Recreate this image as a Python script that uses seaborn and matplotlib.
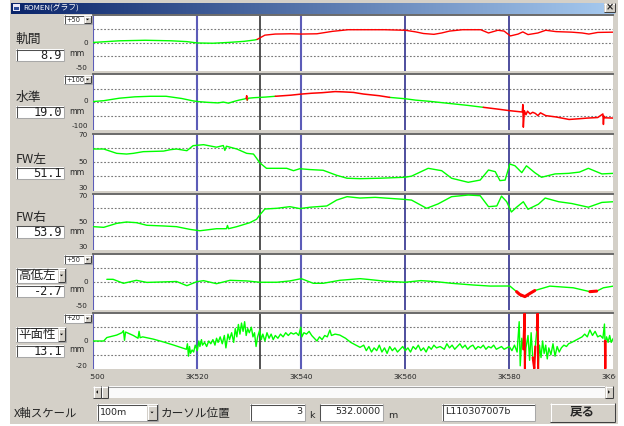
import numpy as np
import pandas as pd
import matplotlib
matplotlib.use("Agg")
import matplotlib.pyplot as plt
import seaborn as sns
from matplotlib.patches import Rectangle, Polygon
from matplotlib.lines import Line2D
from matplotlib.colors import LinearSegmentedColormap

# ---- data (km offset 3K500 .. 3K600) ----
KIKAN_X = [500, 505, 510, 515, 518, 520, 523, 526, 529, 531,
           531.5, 533, 535, 538, 540, 543, 546, 549, 552, 556,
           560, 562, 563.5, 565.5, 567, 568.5, 571, 574.5, 576, 577.8,
           579, 580.2, 581.7, 582.6, 583.6, 585.5, 587, 589, 592, 594,
           595.3, 597, 600]
KIKAN_V = [0.5, 3.5, 4.5, 3.5, 2, -0.5, -1, 0.5, 2.5, 5,
           6, 14, 16, 16.5, 16, 16.5, 21, 24, 24, 24,
           23, 20, 17, 15.5, 18, 21.5, 24, 24, 18, 23,
           21.5, 12.5, 16, 20, 15, 18, 23, 20.5, 19.5, 18,
           16, 19, 19.5]
KIKAN_RED = [(531.5, 601)]

SUIJUN_X = [500, 502, 505, 508, 511, 514, 517, 519, 520, 522,
            524, 525, 526, 527, 528, 529, 529.4, 529.5, 529.6, 529.8,
            531, 533, 535, 538, 540, 542, 544, 546.5, 548, 550,
            552, 555, 557, 560, 562, 564.5, 567, 569.5, 572, 575,
            578, 580, 581.5, 582.5, 582.6, 582.7, 582.9, 583.2, 583.5, 584,
            584.5, 585, 585.5, 586, 587, 589, 591.5, 593, 595, 597,
            598, 598.1, 598.2, 598.4, 600]
SUIJUN_V = [3, 6, 15, 20, 22, 22, 14, 6, 3, 0,
            -2, 1, -3, 3, 8, 12, 14, 24, 8, 15,
            17, 19, 22, 26, 30, 33, 35, 39, 38, 36,
            30, 24, 18, 13, 8, 4, -1, -6, -11, -18,
            -25, -30, -33, -35, -8, -90, -30, -45, -32, -42,
            -36, -40, -48, -38, -48, -53, -62, -60, -57, -55,
            -42, -80, -50, -56, -57]
SUIJUN_RED = [(529.42, 529.68), (535, 557), (575, 601)]

FWL_X = [500, 502, 504.5, 506.4, 507.7, 509.6, 513.5, 514.8, 516, 518,
         519.2, 521.2, 523.7, 525, 525.3, 525.6, 527.6, 529.5, 530.8, 531.4,
         532, 533.3, 535.3, 537.2, 538.5, 539.7, 541.7, 544.2, 546.8, 548.8,
         551.3, 555, 559.9, 561.2, 564.4, 567, 568.9, 572.1, 574.4, 576,
         577.3, 578.2, 579.2, 580.1, 581.1, 582.4, 583.3, 584.9, 586.2, 588.8,
         591.4, 593.5, 595.2, 597.8, 600]
FWL_V = [59.5, 59.5, 56.4, 55.9, 56.4, 57.6, 58, 59, 59.5, 58.3,
         61.9, 62.6, 60.8, 62, 58.5, 61.5, 59.5, 56.4, 55.9, 52.9,
         49.7, 45.7, 45.7, 45.7, 44, 45.4, 44.8, 44.3, 40.7, 38.6,
         38.3, 38.6, 39.3, 40.1, 45.7, 44, 38.6, 35.7, 37.3, 44.5,
         43.3, 36.9, 37.3, 48.8, 47.5, 42.6, 47.5, 42.6, 39.3, 41.7,
         42.1, 43, 45.7, 41.7, 42.1]

FWR_X = [500, 502, 504.5, 506.4, 508.3, 510.3, 513.5, 516, 517.3, 518.6,
         520.5, 523.7, 525.6, 525.8, 526, 527.6, 530.1, 531.4, 532, 533,
         535.3, 537.8, 539.7, 541.7, 544.9, 546.8, 548.8, 551.3, 554.2, 559.9,
         561.2, 564.1, 566.3, 568.9, 572.1, 574.4, 576, 577.6, 578.5, 579.5,
         580.4, 581.4, 582.7, 583.6, 585.6, 586.9, 589.5, 592, 595.2, 597.8,
         600]
FWR_V = [46.6, 46.1, 49, 50, 49.5, 47.6, 47.1, 46.6, 45.6, 44.6,
         43.6, 45.1, 45.1, 47.5, 45.1, 46.6, 49.5, 52, 55.1, 59.5,
         60, 61.2, 59.8, 60.8, 61.7, 66, 68.5, 67.5, 68, 66.5,
         66, 60, 63.2, 68.5, 69.7, 69.2, 61.2, 61.7, 68.9, 64.8,
         57.3, 60.8, 64.8, 59.3, 63, 67.5, 64.8, 63.5, 60.8, 64.3,
         64.8]

KOUTEI_X = [502.6, 503.8, 505.8, 508.3, 510.3, 514.1, 516, 518, 519.9, 521.2,
            523.7, 526.3, 529.5, 532, 535.3, 537.8, 540, 542.3, 544.2, 547.4,
            551.3, 553, 556, 560, 563, 566, 569, 573.1, 576.3, 580.1,
            581.4, 582, 583, 584, 584.9, 587.8, 592.3, 595.5, 596.8, 598.1,
            600]
KOUTEI_V = [4.3, 4.3, -2.9, 2.5, -1.3, -0.2, 0.4, -7.2, 0, 1.9,
            -3.6, 2.5, 1.4, -1, -1, 1.4, 5.5, -2.9, -2.9, 2.5,
            5.5, 4, 1, -1, 2, 0, -3, -6, -7.9, -7.8,
            -18, -23, -27, -21, -16, -8, -11, -18, -17, -11,
            -8]
KOUTEI_RED = [(581.3, 585.0), (595.4, 597.0)]

HEIMEN_X = [500, 502, 502.6, 504.5, 505.5, 505.8, 506, 506.2, 507.7, 508.6,
            508.8, 509, 509.5, 511.5, 513.5, 515.4, 517.3, 517.9, 518.1, 518.3,
            518.5, 518.7, 519, 519.3, 519.6, 520, 520.3, 520.5, 520.8, 521,
            521.4, 521.8, 522.2, 522.6, 523, 523.4, 523.7, 524, 524.4, 524.8,
            525.2, 525.5, 525.9, 526.2, 526.6, 527, 527.3, 527.6, 527.9, 528.2,
            528.5, 528.8, 529.1, 529.4, 529.7, 530, 530.4, 530.7, 531, 531.3,
            531.6, 532, 532.3, 532.6, 533, 533.4, 533.8, 534.2, 534.6, 535,
            535.5, 536, 536.5, 537, 537.5, 538, 538.5, 539, 539.5, 539.9,
            540.1, 540.5, 541, 541.5, 542, 542.5, 543, 543.5, 544, 544.5,
            545, 545.5, 545.8, 546.5, 547.4, 548.5, 549.5, 550.5, 551.3, 552,
            552.5, 553, 553.5, 554, 554.5, 555, 555.5, 556, 556.5, 557,
            557.5, 558, 558.5, 559, 559.5, 560, 560.5, 561, 561.5, 562,
            562.5, 563, 563.5, 564, 564.5, 565, 565.5, 566, 566.7, 567.5,
            568, 568.5, 569, 569.5, 570, 570.5, 571, 571.5, 572, 572.5,
            573, 573.5, 574, 574.5, 575, 575.5, 576, 576.5, 577, 577.5,
            578, 578.5, 579, 579.5, 580, 580.5, 581, 581.5, 581.9, 582.1,
            582.4, 582.7, 582.95, 583.0, 583.2, 583.6, 583.9, 584.2, 584.5, 584.8,
            585.0, 585.3, 585.45, 585.55, 585.8, 586.1, 586.4, 586.7, 587, 587.3,
            587.6, 588, 588.4, 588.8, 589.2, 589.6, 590, 590.5, 591, 591.4,
            592, 592.5, 593, 593.5, 594, 594.5, 595, 595.5, 596, 596.5,
            597, 597.5, 598, 598.3, 598.4, 598.45, 598.5, 598.7, 599, 599.3,
            599.6, 600]
HEIMEN_V = [0, 0, 2.5, 4.3, 6, 7.5, 0.5, 6.5, 4, 2,
            7, 2.4, 3, 1.4, -0.7, -2.9, -5.3, -6, -2, -11,
            -4, -9, -6.5, -8, -3, -7, 0, -4, 1, -3,
            -1, -4, 0, -2, 1, -3, 2, -1, 3, -2,
            4, -5, 5, 1, 6, -1, 9, 3, 12, 5,
            13, 7, 14, 4, 9, 6, 10, 3, 6, -4,
            3, 8, 1, 5, 0, 6, 2, 5, 1, 4,
            2, 5, 3, 6, 4, 6, 5, 6, 4, 10,
            3, 6, 5, 7, 4, 2, 0, 3, 1, 4,
            3, 8, 4, 5, 4.3, 2, -1, -3, -4.6, -3,
            -7, -4, -8, -5, -7, -3, -8, -5, -9, -4,
            -7, -5, -8, -6, -4, -7, -5, -8, -4, -6,
            -3, -7, -5, -8, -4, -6, -3, -5, -4, -6,
            -2, -5, -3, -6, -4, -2, -5, -3, -6, -4,
            -3, -6, -4, -5, -3, -6, -4, -5, -3, -6,
            -5, -4, -6, -5, -4, -7, -3, -8, 14, -18,
            2, -6, 20, -20, -5, 4, -14, 6, -12, -20,
            -4, 8, 20, -20, -3, -12, 0, -9, -3, -13,
            -5, -10, -2, -11, -4, -8, -5, -3, -4, -2,
            -1, 0, 1, 2, 3, 5, 3, 8, 4, 7,
            3, 4, 2, 12.3, 0, -20, 0, 3, -1, 4,
            -1, 2]
HEIMEN_RED = [(582.8, 583.05), (584.6, 584.95), (585.35, 585.52), (598.41, 598.49)]

XTICK_POS = [500, 520, 540, 560, 580, 600]
XTICK_LAB = ["3K500", "3K520", "3K540", "3K560", "3K580", "3K600"]
CURSOR_KM = 532

W, H = 624, 426
GRAY = "#D4D0C8"
JP = ["Noto Sans CJK JP", "DejaVu Sans"]

sns.set_theme(style="white")
plt.rcParams["font.family"] = ["DejaVu Sans", "Noto Sans CJK JP"]

fig = plt.figure(figsize=(W / 100, H / 100), dpi=100, facecolor="white")


def fx(x):
    return x / W


def fy(y):
    return 1 - y / H


def rect(x0, y0, x1, y1, fc, z=1):
    fig.add_artist(Rectangle((fx(x0), fy(y1)), (x1 - x0) / W, (y1 - y0) / H,
                             transform=fig.transFigure, facecolor=fc,
                             edgecolor="none", zorder=z))


def line(xs, ys, color, lw=0.75, z=4):
    fig.add_artist(Line2D([fx(v) for v in xs], [fy(v) for v in ys],
                          transform=fig.transFigure, color=color, linewidth=lw,
                          zorder=z, solid_capstyle="butt"))


def txt(x, y, s, size, ha="left", va="center", family=None, **kw):
    fig.text(fx(x), fy(y), s, fontsize=size, ha=ha, va=va,
             family=family or ["DejaVu Sans"], zorder=6, **kw)


def sunken(x0, y0, x1, y1):
    rect(x0, y0, x1, y1, "white", z=3)
    line([x0, x1], [y0 + 0.5, y0 + 0.5], "#505050")
    line([x0 + 0.5, x0 + 0.5], [y0, y1], "#505050")
    line([x0, x1], [y1 - 0.5, y1 - 0.5], "#A8A8A8")
    line([x1 - 0.5, x1 - 0.5], [y0, y1], "#A8A8A8")


def raised(x0, y0, x1, y1):
    rect(x0, y0, x1, y1, GRAY, z=4)
    line([x0, x1], [y0 + 0.5, y0 + 0.5], "white", z=5)
    line([x0 + 0.5, x0 + 0.5], [y0, y1], "white", z=5)
    line([x0, x1], [y1 - 0.5, y1 - 0.5], "#404040", z=5)
    line([x1 - 0.5, x1 - 0.5], [y0, y1], "#404040", z=5)


def tri(cx, cy, s, direction="down"):
    if direction == "down":
        pts = [(cx - s, cy - s / 2), (cx + s, cy - s / 2), (cx, cy + s / 2)]
    elif direction == "left":
        pts = [(cx + s / 2, cy - s), (cx + s / 2, cy + s), (cx - s / 2, cy)]
    else:
        pts = [(cx - s / 2, cy - s), (cx - s / 2, cy + s), (cx + s / 2, cy)]
    fig.add_artist(Polygon([(fx(a), fy(b)) for a, b in pts], closed=True,
                           transform=fig.transFigure, facecolor="black",
                           edgecolor="none", zorder=6))


def dropdown(x0, y0, x1, y1, label, size, bw, family=None):
    sunken(x0, y0, x1, y1)
    raised(x1 - bw - 1, y0 + 1, x1 - 1, y1 - 1)
    tri(x1 - 1 - bw / 2, (y0 + y1) / 2, 1.6)
    txt(x0 + 2.5, (y0 + y1) / 2, label, size, family=family)


def build_runs(xs, vs, red):
    rows = []
    run, prev = 0, None
    for i in range(len(xs) - 1):
        mid = (xs[i] + xs[i + 1]) / 2
        c = "r" if any(a < mid < b for a, b in red) else "g"
        if c != prev:
            run += 1
            rows.append((xs[i], vs[i], run, c))
            prev = c
        rows.append((xs[i + 1], vs[i + 1], run, c))
    return pd.DataFrame(rows, columns=["x", "v", "run", "c"])


# window background + title bar
rect(10, 0, 618, 424, GRAY, z=0)
grad = np.linspace(0, 1, 256).reshape(1, -1)
tcmap = LinearSegmentedColormap.from_list("title", ["#0A246A", "#A6CAF0"])
ax_t = fig.add_axes([fx(11), fy(14), (615 - 11) / W, 11 / H])
ax_t.imshow(grad, aspect="auto", cmap=tcmap)
ax_t.axis("off")
rect(13, 4.5, 20, 11, "#E8E8F8", z=5)
rect(14, 6.5, 19, 10, "#2A4A9A", z=6)
txt(23, 8.5, "ROMEN(グラフ)", 5.6, family=JP, color="white")
raised(604, 3, 615, 12)
txt(609.5, 7.5, "×", 7, ha="center", fontweight="bold")

# panels
PANELS = [
    dict(x=KIKAN_X, v=KIKAN_V, red=KIKAN_RED, top=14.6, bot=70.8,
         ylim=(-52, 52), grid=(-25, 0, 25), red_lw=1.0),
    dict(x=SUIJUN_X, v=SUIJUN_V, red=SUIJUN_RED, top=74.2, bot=130.5,
         ylim=(-102, 102), grid=(-50, 0, 50), red_lw=1.1),
    dict(x=FWL_X, v=FWL_V, red=[], top=133.9, bot=190.7,
         ylim=(29.7, 70.3), grid=(40, 50, 60), red_lw=1.0),
    dict(x=FWR_X, v=FWR_V, red=[], top=194.2, bot=249.8,
         ylim=(29.7, 70.3), grid=(40, 50, 60), red_lw=1.0),
    dict(x=KOUTEI_X, v=KOUTEI_V, red=KOUTEI_RED, top=253.5, bot=309.9,
         ylim=(-51, 51), grid=(-25, 0, 25), red_lw=2.2),
    dict(x=HEIMEN_X, v=HEIMEN_V, red=HEIMEN_RED, top=313.0, bot=369.0,
         ylim=(-20.3, 20.3), grid=(-10, 0, 10), red_lw=1.6),
]

for p in PANELS:
    ax = fig.add_axes([fx(93.3), fy(p["bot"]), 520 / W, (p["bot"] - p["top"]) / H])
    ax.set_facecolor("white")
    for g in p["grid"]:
        ax.axhline(g, color="#7A7A7A", lw=0.8, ls=(0, (1.6, 1.6)), zorder=1)
    for km in XTICK_POS[:3]:
        ax.axvline(km, color="#5C5CB8", lw=1.5, zorder=2)
    for km in XTICK_POS[3:5]:
        ax.axvline(km, color="#1E1E84", lw=1.1, zorder=2)
    ax.axvline(CURSOR_KM, color="#444444", lw=1.3, zorder=2)

    df = build_runs(p["x"], p["v"], p["red"])
    for c, col, lw in [("g", "#00FF00", 1.0), ("r", "#FF0000", p["red_lw"])]:
        sub = df[df["c"] == c]
        if len(sub):
            sns.lineplot(data=sub, x="x", y="v", units="run", estimator=None,
                         sort=False, color=col, linewidth=lw, ax=ax,
                         legend=False, zorder=3)
    ax.set_xlim(500, 600)
    ax.set_ylim(*p["ylim"])
    ax.set_xticks([])
    ax.set_yticks([])
    ax.set_xlabel("")
    ax.set_ylabel("")
    for s in ["left", "right", "bottom"]:
        ax.spines[s].set_visible(False)
    ax.spines["top"].set_color("#6A6A6A")
    ax.spines["top"].set_linewidth(1.4)

# left side labels
TS = 5.2
txt(16, 39, "軌間", 9.2, family=JP)
txt(16, 97, "水準", 9.2, family=JP)
txt(16, 159, "FW左", 9.2, family=JP)
txt(16, 218, "FW右", 9.2, family=JP)
dropdown(16, 268, 66, 283, "高低左", 9, 7, family=JP)
dropdown(16, 327, 66, 342, "平面性", 9, 7, family=JP)

VALUES = ["8.9", "19.0", "51.1", "53.9", "-2.7", "13.1"]
VALUE_Y = [(49, 61), (106, 118), (167, 179), (226, 238), (285, 297), (345, 357)]
for s, (a, b) in zip(VALUES, VALUE_Y):
    sunken(16, a, 64, b)
    txt(62, (a + b) / 2 + 0.3, s, 8.6, ha="right", family=["DejaVu Sans Mono"],
        color="#202020")
    txt(69, (a + b) / 2 - 1.0, "mm", 5.6)

dropdown(64, 15, 92, 24, "+50", 4.8, 7)
dropdown(64, 75, 92, 84, "+100", 4.8, 7)
dropdown(64, 255, 92, 264, "+50", 4.8, 7)
dropdown(64, 314, 92, 323, "+20", 4.8, 7)

TICKS = [(43, "0"), (68, "-50"), (101, "0"), (126.5, "-100"),
         (135, "70"), (162, "50"), (187.5, "30"),
         (196, "70"), (222, "50"), (247, "30"),
         (282, "0"), (306, "-50"), (341, "0"), (366, "-20")]
for y, s in TICKS:
    txt(88, y, s, TS, ha="right")

# x labels row (clipped at the window edge like the original)
ax_l = fig.add_axes([fx(90), fy(384), (616 - 90) / W, 12 / H])
ax_l.set_xlim(500 - 3.3 / 5.2, 600 + 2.7 / 5.2)
ax_l.set_ylim(0, 1)
ax_l.axis("off")
for km, lab in zip(XTICK_POS, XTICK_LAB):
    ax_l.text(km, 0.55, lab, fontsize=5.4, ha="center", va="center", clip_on=True)

# scrollbar
rect(93, 386, 613, 398, "#FAFAFA", z=2)
line([93, 613], [386.5, 386.5], "#A0A0A0")
raised(93, 386, 101, 398)
tri(97, 392, 1.8, "left")
raised(101, 386, 108, 398)
raised(605, 386, 613, 398)
tri(609, 392, 1.8, "right")

# bottom row
txt(14, 413, "X軸スケール", 8.2, family=JP)
dropdown(97, 404, 158, 421, "100m", 6.8, 10)
txt(161, 413, "カーソル位置", 8.4, family=JP)
sunken(250, 404, 305, 421)
txt(302, 411.5, "3", 6.8, ha="right")
txt(309, 415.5, "k", 6.8)
sunken(320, 404, 383, 421)
txt(380, 411.5, "532.0000", 6.8, ha="right")
txt(388, 415.5, "m", 6.8)
sunken(442, 404, 535, 421)
txt(445, 411.5, "L110307007b", 6.8)
raised(550, 403, 615, 422)
txt(582, 412, "戻る", 9, ha="center", family=JP, fontweight="bold")

fig.savefig("out.png", dpi=100, facecolor=fig.get_facecolor())
